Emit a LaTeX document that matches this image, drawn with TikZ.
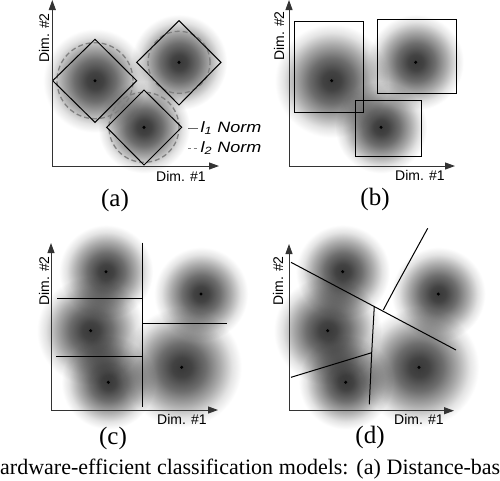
\documentclass[tikz,border=0pt]{standalone}
\usepackage{fontspec}
\setmainfont{Liberation Serif}
\setsansfont{Liberation Sans}
\usetikzlibrary{arrows.meta}
\pgfdeclareradialshading{blobshade}{\pgfpoint{0bp}{0bp}}{color(0bp)=(black!78); color(4bp)=(black!74); color(10bp)=(black!57); color(16bp)=(black!33); color(21bp)=(black!11); color(25bp)=(white); color(50bp)=(white)}
\tikzset{
  axis/.style={draw=black!80, line width=1pt, -{Triangle[length=10pt,width=7pt]}},
  dimlbl/.style={font=\sffamily\fontsize{14}{15}\selectfont, inner sep=0pt},
  panellbl/.style={font=\fontsize{25}{26}\selectfont, inner sep=0pt},
  bound/.style={draw=black, line width=1pt},
  ltwo/.style={draw=black!50, line width=1.3pt, dash pattern=on 5pt off 3pt},
  lone/.style={draw=black!60, line width=0.8pt},
  legend/.style={font=\sffamily\itshape\fontsize{15}{16}\selectfont, inner sep=0pt, anchor=west, xscale=1.2},
  blob/.style={shading=blobshade, blend mode=multiply},
  dot/.style={fill=black}
}
\newcommand{\myblob}[3]{\shade[blob] (#1,#2) circle[radius=#3pt]; \fill[dot] (#1,#2) circle[radius=1.7pt];}
\begin{document}
\begin{tikzpicture}[x=1pt,y=-1pt]
\useasboundingbox (0,0) rectangle (500,480);
\clip (0,0) rectangle (500,480);
\fill[white] (0,0) rectangle (500,480);

% ---------- (a)
\myblob{95}{80.7}{52}
\myblob{179}{62.3}{48}
\myblob{144}{127.3}{46}
\draw[ltwo] (95,80.7) circle[radius=38pt];
\draw[ltwo] (179,62.3) circle[radius=31pt];
\draw[ltwo] (144,127.3) circle[radius=35pt];
\draw[bound] (95,39.3) -- (136.7,80.7) -- (95,122.3) -- (52.7,80.7) -- cycle;
\draw[bound] (179,20.7) -- (221,62.3) -- (179,105) -- (136.7,62.3) -- cycle;
\draw[bound] (144,90) -- (181.7,127.3) -- (144,165) -- (106.7,127.3) -- cycle;
\coordinate (ao) at (52.3,166);
\coordinate (ax) at (219,166);
\coordinate (ay) at (52.3,0);
\draw[axis] (ao) -- (ax);
\draw[axis] (ao) -- (ay);
\coordinate (l1a) at (188,128.3); \coordinate (l1b) at (198,128.3);
\coordinate (l2a) at (188,148.3); \coordinate (l2b) at (198,148.3);
\draw[lone] (l1a) -- (l1b);
\draw[ltwo, dash pattern=on 3pt off 2.5pt] (l2a) -- (l2b);
\node[legend] (lg1) at (200.5,128.3) {l\textsubscript{1} Norm};
\node[legend] (lg2) at (200.5,148.3) {l\textsubscript{2} Norm};
\node[dimlbl, rotate=90] (ay2) at (44,38) {Dim. \#2};
\node[dimlbl] (ax1) at (181,176) {Dim. \#1};
\node[panellbl] (pa) at (115,200) {(a)};

% ---------- (b)
\myblob{331.7}{80.7}{57}
\myblob{415.7}{62.3}{48}
\myblob{381}{127.3}{46}
\draw[bound] (294.3,21.7) rectangle (363.3,112.3);
\draw[bound] (377.3,19) rectangle (456,93.3);
\draw[bound] (355,100) rectangle (421.7,156);
\coordinate (bo) at (289,166);
\coordinate (bx) at (455,166);
\coordinate (by) at (289,0);
\draw[axis] (bo) -- (bx);
\draw[axis] (bo) -- (by);
\node[dimlbl, rotate=90] (by2) at (279,36) {Dim. \#2};
\node[dimlbl] (bx1) at (420,175) {Dim. \#1};
\node[panellbl] (pb) at (375,199) {(b)};

% ---------- (c)
\myblob{106}{271.7}{47}
\myblob{90.7}{330.7}{54}
\myblob{108.3}{382.3}{47}
\myblob{201}{294}{47}
\myblob{181.7}{367.3}{60}
\draw[bound] (142.7,242.7) -- (142.7,406.7);
\draw[bound] (57.3,298.3) -- (142.7,298.3);
\draw[bound] (56,356.7) -- (142.7,356.7);
\draw[bound] (142.7,323.3) -- (226.7,323.3);
\coordinate (co) at (51,410);
\coordinate (cx) at (218,410);
\coordinate (cy) at (51,243);
\draw[axis] (co) -- (cx);
\draw[axis] (co) -- (cy);
\node[dimlbl, rotate=90] (cy2) at (44,281) {Dim. \#2};
\node[dimlbl] (cx1) at (182,419) {Dim. \#1};
\node[panellbl] (pc) at (113,438) {(c)};

% ---------- (d)
\myblob{342.7}{271.7}{47}
\myblob{327.7}{330.7}{54}
\myblob{345.7}{382.3}{47}
\myblob{438.3}{294}{47}
\myblob{419}{367.3}{60}
\draw[bound] (291,262.3) -- (456,350);
\draw[bound] (383.3,310) -- (395,288) -- (427.7,228.3);
\draw[bound] (374.3,306) -- (371.7,352.7) -- (369.3,404.3);
\draw[bound] (291,377.3) -- (371.7,352.7);
\coordinate (do) at (289,410.7);
\coordinate (dx) at (454,410.7);
\coordinate (dy) at (289,244);
\draw[axis] (do) -- (dx);
\draw[axis] (do) -- (dy);
\node[dimlbl, rotate=90] (dy2) at (278,281) {Dim. \#2};
\node[dimlbl] (dx1) at (419,419) {Dim. \#1};
\node[panellbl] (pd) at (370,437) {(d)};

% ---------- caption
\node[anchor=base west, inner sep=0pt, font=\fontsize{22}{24}\selectfont] (cap) at (0,474)
  {\makebox[500pt][s]{ardware-efficient classification models: (a) Distance-bas}};
\end{tikzpicture}
\end{document}
